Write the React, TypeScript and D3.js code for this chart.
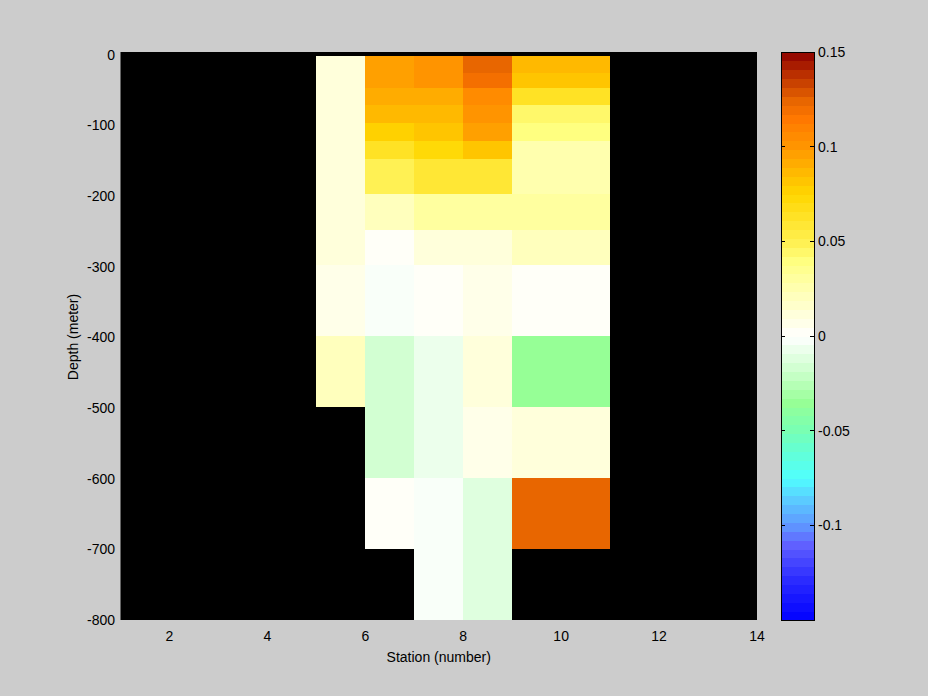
import React from 'react';
import * as d3 from 'd3';

// ---- data ----
const stationEdges = [5, 6, 7, 8, 9, 11];
const depthEdges = [-2, -26, -47, -71, -96, -122, -147, -197, -248, -298, -398, -499, -599, -700, -800];
const station5 = [0.012, 0.012, 0.012, 0.014, 0.014, 0.011, 0.011, 0.011, 0.011, 0.005, 0.02, null, null, null];
const station6 = [0.096, 0.096, 0.092, 0.087, 0.077, 0.064, 0.048, 0.02, 0.004, -0.003, -0.017, -0.017, 0.002, null];
const station7 = [0.1, 0.1, 0.092, 0.087, 0.082, 0.073, 0.06, 0.03, 0.012, 0.002, -0.009, -0.009, -0.003, -0.003];
const station8 = [0.125, 0.12, 0.107, 0.103, 0.098, 0.083, 0.06, 0.032, 0.013, 0.008, 0.014, 0.006, -0.012, -0.012];
const station9 = [0.087, 0.083, 0.065, 0.043, 0.04, 0.025, 0.025, 0.03, 0.021, 0.002, -0.033, 0.013, 0.125, null];
const columns = [station5, station6, station7, station8, station9];

const xTicks = [2, 4, 6, 8, 10, 12, 14];
const yTicks = [0, -100, -200, -300, -400, -500, -600, -700, -800];
const cbTicks = [0.15, 0.1, 0.05, 0, -0.05, -0.1];
const cbTickLabels = ['0.15', '0.1', '0.05', '0', '-0.05', '-0.1'];

const cmapStops = [-0.15, -0.13, -0.11, -0.1, -0.085, -0.075, -0.06, -0.05, -0.035, -0.02, 0, 0.01, 0.025, 0.04, 0.05, 0.065, 0.075, 0.09, 0.1, 0.115, 0.125, 0.14, 0.15];
const cmapColors = ['#0000ff', '#2828ff', '#6060ff', '#5f96ff', '#5ad2ff', '#50ffff', '#64ffd2', '#78ffb4', '#96ff96', '#c8ffc8', '#ffffff', '#ffffe0', '#ffffb0', '#ffff80', '#fff050', '#ffe020', '#ffd700', '#ffb000', '#ff9600', '#ff7800', '#e66400', '#b42800', '#8c0000'];
const nLevels = 64;
const cLim = [-0.15, 0.15];

const FONT = "'Liberation Sans Narrow', 'Liberation Sans', Arial, sans-serif";

export default function App() {
  const W = 928, H = 696;
  const plot = { left: 120.5, right: 757, top: 52, bottom: 620 };
  const cb = { left: 781, right: 814, top: 52, bottom: 620 };

  const x = d3.scaleLinear().domain([1, 14]).range([plot.left, plot.right]);
  const y = d3.scaleLinear().domain([-800, 4]).range([plot.bottom, plot.top]);
  const cy = d3.scaleLinear().domain(cLim).range([cb.bottom, cb.top]);

  const cmap = d3.scaleLinear<string>().domain(cmapStops).range(cmapColors).interpolate(d3.interpolateRgb);
  const levelColors = d3.range(nLevels).map(i => cmap(cLim[0] + (i + 0.5) * (cLim[1] - cLim[0]) / nLevels));
  const quant = d3.scaleQuantize<string>().domain(cLim).range(levelColors);

  const cells: JSX.Element[] = [];
  columns.forEach((col, ci) => {
    col.forEach((v, ri) => {
      if (v === null) return;
      const x0 = x(stationEdges[ci]), x1 = x(stationEdges[ci + 1]);
      const y0 = y(depthEdges[ri]), y1 = y(depthEdges[ri + 1]);
      cells.push(<rect key={`${ci}-${ri}`} x={x0} y={y0} width={x1 - x0} height={y1 - y0} fill={quant(v)} shapeRendering="crispEdges" />);
    });
  });

  const levelH = (cb.bottom - cb.top) / nLevels;

  return (
    <svg width={W} height={H} style={{ position: 'absolute', left: 0, top: 0 }} fontFamily={FONT}>
      <rect x={0} y={0} width={W} height={H} fill="#cccccc" />
      <rect x={plot.left} y={plot.top} width={plot.right - plot.left} height={plot.bottom - plot.top} fill="#000000" />
      {cells}
      {xTicks.map(t => (
        <text key={`xt${t}`} x={x(t)} y={641} textAnchor="middle" fontSize={14} fill="#000">{t}</text>
      ))}
      {yTicks.map(t => (
        <text key={`yt${t}`} x={115} y={y(t) + 5} textAnchor="end" fontSize={14} fill="#000">{t}</text>
      ))}
      <text x={(plot.left + plot.right) / 2} y={662} textAnchor="middle" fontSize={14} fill="#000">Station (number)</text>
      <text transform={`translate(78,337) rotate(-90)`} textAnchor="middle" fontSize={14} fill="#000">Depth (meter)</text>

      {levelColors.map((c, i) => (
        <rect key={`cb${i}`} x={cb.left} y={cb.bottom - (i + 1) * levelH} width={cb.right - cb.left} height={levelH + 0.5} fill={c} shapeRendering="crispEdges" />
      ))}
      <rect x={cb.left} y={cb.top} width={cb.right - cb.left} height={cb.bottom - cb.top} fill="none" stroke="#000" strokeWidth={1} shapeRendering="crispEdges" />
      {cbTicks.map((t, i) => (
        <g key={`cbt${i}`}>
          <line x1={cb.left} x2={cb.left + 4} y1={cy(t)} y2={cy(t)} stroke="#000" shapeRendering="crispEdges" />
          <line x1={cb.right - 4} x2={cb.right} y1={cy(t)} y2={cy(t)} stroke="#000" shapeRendering="crispEdges" />
          <text x={818} y={cy(t) + 5} fontSize={14} fill="#000">{cbTickLabels[i]}</text>
        </g>
      ))}
    </svg>
  );
}
